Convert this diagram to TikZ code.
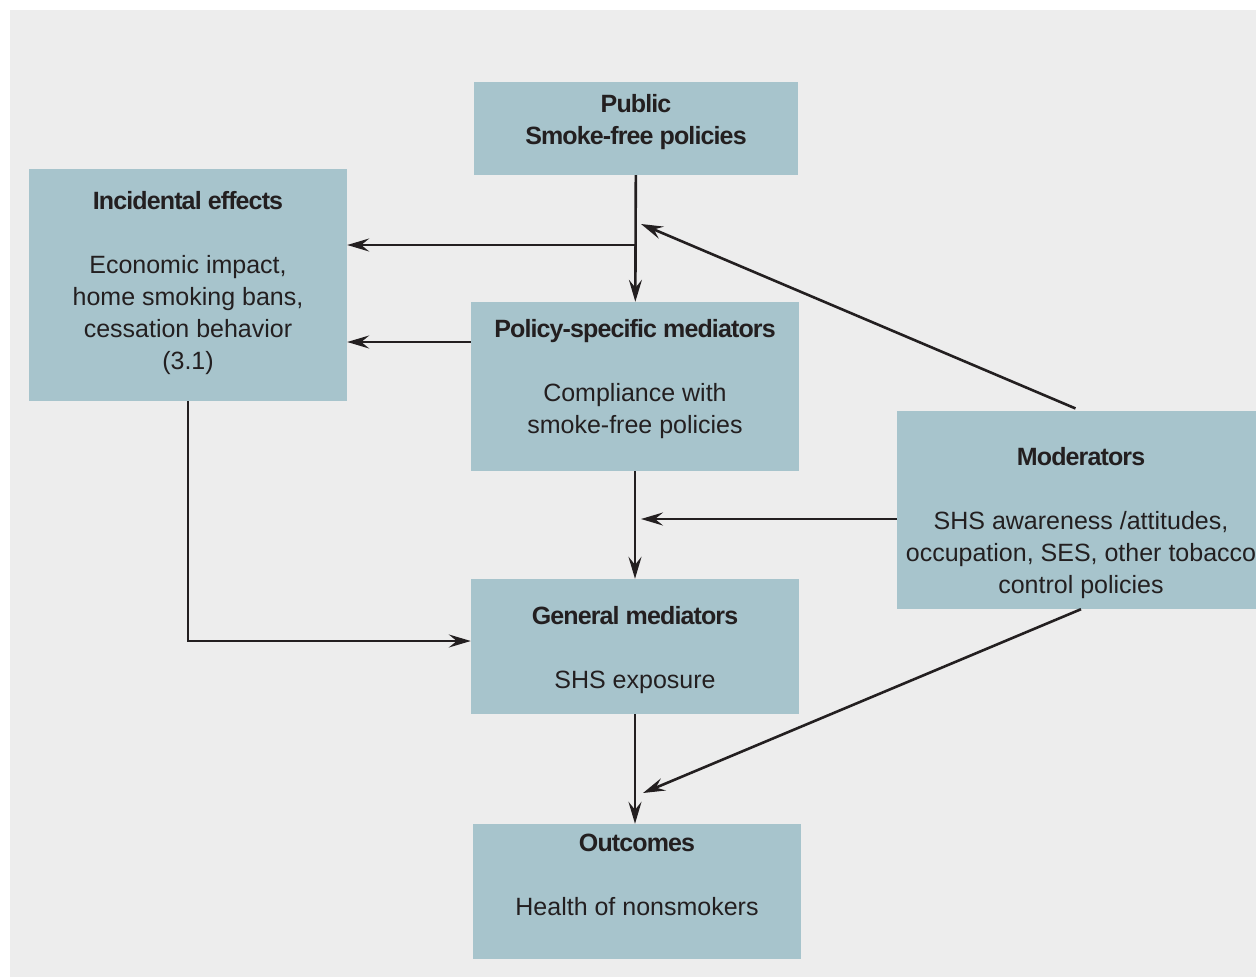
\documentclass[tikz,border=0pt]{standalone}
\usepackage{fontspec}
\setmainfont{Liberation Sans}
\newfontfamily\headfont[LetterSpace=-3.5]{Liberation Sans}
\usetikzlibrary{positioning}
\usetikzlibrary{calc}
\usetikzlibrary{arrows.meta}
\definecolor{boxblue}{RGB}{167,196,204}
\definecolor{bggrey}{RGB}{237,237,237}
\definecolor{ink}{RGB}{35,31,32}

\tikzset{
  box/.style={fill=boxblue, inner sep=0pt},
  boxtext/.style={align=center, text=ink, font=\fontsize{25}{32}\selectfont},
  flow/.style={-{Stealth[length=22pt, width=13pt, inset=8pt]}, line width=2.6pt, draw=ink},
}
\newcommand{\hd}[1]{{\headfont\bfseries #1}}

\begin{document}
\begin{tikzpicture}[x=1pt, y=-1pt]
    \useasboundingbox (0,0) rectangle (1256,977);
    \clip (0,0) rectangle (1256,977);
    \fill[bggrey] (10,10) rectangle (1256,977);

    % Boxes
    \node[box, minimum width=324pt, minimum height=93pt,
          label={[boxtext, yshift=6pt]center:{\hd{Public}\\\hd{Smoke-free policies}}}] (pub) at (636,128.5) {};
    \node[box, minimum width=318pt, minimum height=232pt,
          label={[boxtext, yshift=1.5pt]center:{\hd{Incidental effects}\\[32pt]Economic impact,\\home smoking bans,\\cessation behavior\\(3.1)}}] (inc) at (188,285) {};
    \node[box, minimum width=328pt, minimum height=169pt,
          label={[boxtext, yshift=7pt]center:{\hd{Policy-specific mediators}\\[32pt]Compliance with\\smoke-free policies}}] (pol) at (635,386.5) {};
    \node[box, minimum width=368pt, minimum height=198pt,
          label={[boxtext, yshift=-13.5pt]center:{\hd{Moderators}\\[32pt]SHS awareness /attitudes,\\occupation, SES, other tobacco\\control policies}}] (mod) at (1081,510) {};
    \node[box, minimum width=328pt, minimum height=135pt,
          label={[boxtext, yshift=-4pt]center:{\hd{General mediators}\\[32pt]SHS exposure}}] (gen) at (635,646.5) {};
    \node[box, minimum width=328pt, minimum height=135pt,
          label={[boxtext, yshift=17pt]center:{\hd{Outcomes}\\[32pt]Health of nonsmokers}}] (out) at (637,891.5) {};

    % Points where arrows meet the main line
    \coordinate (j1) at (636,245);
    \coordinate (j2) at (641,224);
    \coordinate (j3) at (641,519);
    \coordinate (j4) at (643,793);

    \draw[flow] (pub) -- (pol);
    \draw[flow] (j1) -- (j1 -| inc.east);
    \draw[flow, shorten <=6pt] (mod.north) -- (j2);
    \draw[flow] (pol.west |- 0,342) -- (inc.east |- 0,342);
    \draw[flow] (pol) -- (gen);
    \draw[flow] (mod.west |- j3) -- (j3);
    \draw[flow] (inc.south) |- (gen.west |- 0,641);
    \draw[flow] (gen.south) -- (gen.south |- out.north);
    \draw[flow] (mod.south) -- (j4);
\end{tikzpicture}
\end{document}
